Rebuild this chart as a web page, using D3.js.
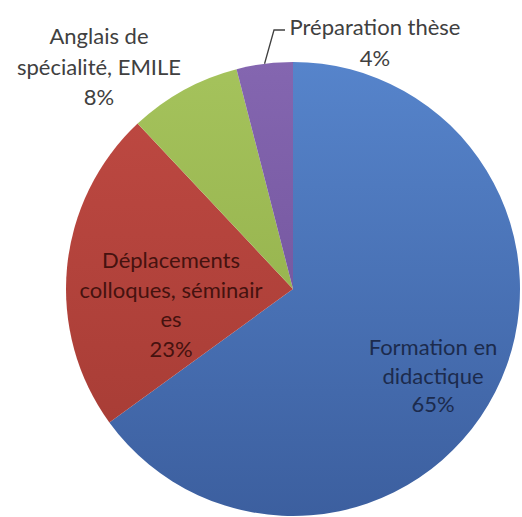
<!DOCTYPE html>
<html>
<head>
<meta charset="utf-8">
<script src="https://cdn.jsdelivr.net/npm/d3@7"></script>
<style>
  body { margin: 0; background: #fff; }
  svg text { font-family: Lato, "Open Sans", sans-serif; }
</style>
</head>
<body>
<script>
// chart data
const categories = ["Formation en didactique", "Déplacements colloques, séminaires", "Anglais de spécialité, EMILE", "Préparation thèse"];
const values = [65, 23, 8, 4];
const labelLines = [
    ["Formation en", "didactique", "65%"],
    ["Déplacements", "colloques, séminair", "es", "23%"],
    ["Anglais de", "spécialité, EMILE", "8%"],
    ["Préparation thèse", "4%"]
];
const colorsTop = ["#5684cb", "#c04a43", "#a5c35c", "#8466b0"];
const colorsBottom = ["#3c5f9f", "#a33a33", "#8ca844", "#6a4c93"];
const textColors = ["#1c2b4d", "#45120f", "#404040", "#404040"];

const width = 522, height = 517;
const cx = 293, cy = 289, radius = 227;

const svg = d3.select("body").append("svg")
    .attr("width", width)
    .attr("height", height);

// vertical light-to-dark gradient per slice
const defs = svg.append("defs");
categories.forEach(function (c, i) {
    const grad = defs.append("linearGradient")
        .attr("id", "grad" + i)
        .attr("gradientUnits", "userSpaceOnUse")
        .attr("x1", 0).attr("y1", -radius)
        .attr("x2", 0).attr("y2", radius);
    grad.append("stop").attr("offset", "0%").attr("stop-color", colorsTop[i]);
    grad.append("stop").attr("offset", "100%").attr("stop-color", colorsBottom[i]);
});

const pie = d3.pie().sort(null).value(function (d) { return d; });
const arc = d3.arc().innerRadius(0).outerRadius(radius);
const arcs = pie(values);

const g = svg.append("g").attr("transform", "translate(" + cx + "," + cy + ")");

g.selectAll(".slice")
    .data(arcs)
    .enter().append("path")
    .attr("class", "slice")
    .attr("d", arc)
    .attr("fill", function (d, i) { return "url(#grad" + i + ")"; });

// label anchors (centre of text block, relative to pie centre)
const labelPos = [
    { x: 140, y: 87, dy: 28.5 },
    { x: -122, y: 16, dy: 29.5 },
    { x: -194, y: -222, dy: 30.5 },
    { x: 82, y: -246, dy: 31 }
];

const fontSize = 22;
g.selectAll(".label")
    .data(arcs)
    .enter().append("text")
    .attr("class", "label")
    .attr("text-anchor", "middle")
    .attr("font-size", fontSize)
    .attr("fill", function (d, i) { return textColors[i]; })
    .each(function (d, i) {
        const lines = labelLines[i];
        const p = labelPos[i];
        const top = p.y - (lines.length - 1) * p.dy / 2;
        d3.select(this).selectAll("tspan")
            .data(lines)
            .enter().append("tspan")
            .attr("x", p.x)
            .attr("y", function (l, k) { return top + k * p.dy; })
            .attr("dy", "0.35em")
            .text(function (l) { return l; });
    });

// leader line for the small slice
const small = arcs[3];
const mid = (small.startAngle + small.endAngle) / 2;
const edge = [Math.sin(mid) * radius, -Math.cos(mid) * radius];
g.append("path")
    .attr("d", d3.line()([edge, [-19, -259], [-8, -259]]))
    .attr("fill", "none")
    .attr("stroke", "#404040")
    .attr("stroke-width", 1.3);
</script>
</body>
</html>
